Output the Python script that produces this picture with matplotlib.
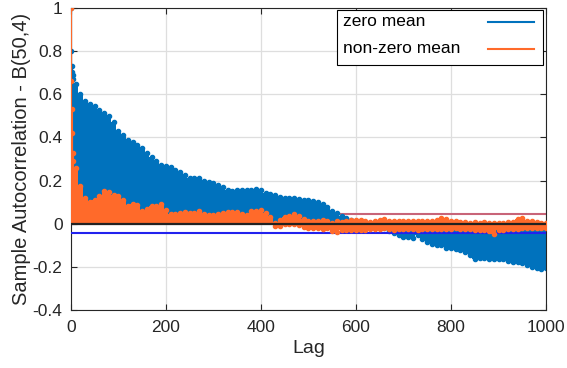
import numpy as np
import matplotlib
matplotlib.use("Agg")
import matplotlib.pyplot as plt

plt.rcParams['font.family'] = ['Liberation Sans', 'DejaVu Sans']

# first lags, drawn as single stems
early_lags = [0, 1, 2, 3, 4, 5]
zero_mean_early = [1.0, 0.80, 0.73, 0.705, 0.69, 0.67]
nonzero_mean_early = [1.0, 0.66, 0.53, 0.42, 0.33, 0.29]

# envelope of the dense stems, read every 10 lags (10..1000)
lags = np.arange(10, 1001, 10)
zero_mean = [
    0.65, 0.60, 0.57, 0.555, 0.545, 0.527, 0.515, 0.50, 0.47, 0.43,
    0.41, 0.39, 0.38, 0.365, 0.35, 0.33, 0.31, 0.29, 0.272, 0.266,
    0.262, 0.25, 0.24, 0.225, 0.21, 0.21, 0.21, 0.20, 0.195, 0.19,
    0.178, 0.17, 0.155, 0.153, 0.155, 0.156, 0.156, 0.157, 0.159, 0.155,
    0.14, 0.137, 0.133, 0.125, 0.117, 0.117, 0.117, 0.114, 0.11, 0.11,
    0.105, 0.10, 0.09, 0.078, 0.06, 0.048, 0.035, 0.025, 0.015, 0.008,
    -0.005, -0.01, -0.015, -0.015, -0.02, -0.02, -0.035, -0.045, -0.055, -0.06,
    -0.06, -0.068, -0.055, -0.07, -0.085, -0.095, -0.097, -0.10, -0.112, -0.115,
    -0.118, -0.122, -0.13, -0.145, -0.165, -0.16, -0.16, -0.165, -0.165, -0.162,
    -0.162, -0.172, -0.177, -0.18, -0.184, -0.19, -0.20, -0.205, -0.212, -0.208,
]
nonzero_mean_hi = [
    0.26, 0.175, 0.12, 0.10, 0.11, 0.13, 0.15, 0.145, 0.135, 0.13,
    0.11, 0.08, 0.09, 0.086, 0.06, 0.068, 0.08, 0.08, 0.09, 0.065,
    0.045, 0.045, 0.05, 0.055, 0.05, 0.048, 0.058, 0.045, 0.04, 0.042,
    0.045, 0.05, 0.055, 0.055, 0.052, 0.045, 0.04, 0.06, 0.058, 0.062,
    0.05, 0.03, 0.005, 0.015, 0.03, 0.036, 0.045, 0.035, 0.022, 0.01,
    0.01, 0.012, 0.015, 0.01, 0.005, 0.012, 0.008, 0.012, 0.017, 0.017,
    0.015, 0.01, 0.009, 0.012, 0.018, 0.02, 0.012, 0.014, 0.012, 0.013,
    0.014, 0.012, 0.01, 0.01, 0.012, 0.014, 0.018, 0.025, 0.022, 0.01,
    0.012, 0.008, 0.008, 0.005, 0.009, 0.005, 0.006, 0.005, 0.004, 0.005,
    0.005, 0.006, 0.006, 0.02, 0.025, 0.01, 0.014, 0.006, 0.005, 0.005,
]
# negative side of the non-zero mean stems (from lag 430 on)
lo_lags = np.arange(430, 1001, 10)
nonzero_mean_lo = [
    -0.01, -0.01, -0.002, 0.0, 0.0, -0.005, -0.015, -0.022, -0.018, -0.02,
    -0.025, -0.022, -0.035, -0.037, -0.03, -0.03, -0.03, -0.03, -0.028, -0.03,
    -0.025, -0.025, -0.025, -0.022, -0.025, -0.028, -0.025, -0.025, -0.027, -0.025,
    -0.028, -0.025, -0.026, -0.025, -0.024, -0.023, -0.025, -0.025, -0.022, -0.024,
    -0.026, -0.025, -0.028, -0.03, -0.03, -0.032, -0.048, -0.03, -0.028, -0.026,
    -0.025, -0.024, -0.022, -0.022, -0.02, -0.022, -0.02, -0.02,
]
bound = 0.0447
labels = ['zero mean', 'non-zero mean']

blue = '#0072bd'
orange = '#ff6a2a'
ink = '#262626'

fig = plt.figure(figsize=(5.67, 3.68), dpi=100)
ax = fig.add_axes([0.125, 0.158, 0.838, 0.820])

ax.axhline(bound, color='#c86478', lw=1.5, zorder=1)


def dense_stems(x0, y0, x, y, color, z):
    # the stems are so dense that they merge into a band
    xs = np.concatenate([[x0], x])
    ys = np.concatenate([[y0], y])
    ax.fill_between(xs, 0, ys, step='mid', color=color, lw=0, zorder=z)
    ax.plot(x, y, 'o', color=color, ms=3, zorder=z)


# zero mean
dense_stems(early_lags[-1], zero_mean_early[-1], lags, zero_mean, blue, 2)
ax.vlines(early_lags, 0, zero_mean_early, color=blue, lw=0.8, zorder=2)
ax.plot(early_lags, zero_mean_early, 'o', color=blue, ms=3, zorder=2)

ax.axhline(-bound, color='#2222ee', lw=1.5, zorder=3)

# non-zero mean
dense_stems(early_lags[-1], nonzero_mean_early[-1], lags, nonzero_mean_hi, orange, 4)
dense_stems(lo_lags[0], 0.0, lo_lags, nonzero_mean_lo, orange, 4)
ax.vlines(early_lags, 0, nonzero_mean_early, color=orange, lw=0.8, zorder=4)
ax.plot(early_lags, nonzero_mean_early, 'o', color=orange, ms=3, zorder=4)

ax.axhline(0, color='#222222', lw=1.6, zorder=5)

# legend, MATLAB style: text on the left, line sample on the right
ax.add_patch(plt.Rectangle((0.560, 0.811), 0.434, 0.182, transform=ax.transAxes,
                           facecolor='white', edgecolor='black', lw=0.8, zorder=6))
for i, (lab, col) in enumerate(zip(labels, [blue, orange])):
    yy = 0.955 - i * 0.09
    ax.text(0.573, yy, lab, transform=ax.transAxes, fontsize=12.5, color='black',
            va='center', ha='left', zorder=7)
    ax.plot([0.878, 0.975], [yy, yy], color=col, lw=1.5, transform=ax.transAxes, zorder=7)

ax.set_xlim(0, 1000)
ax.set_ylim(-0.4, 1)
ax.set_xticks([0, 200, 400, 600, 800, 1000])
ax.set_yticks([-0.4, -0.2, 0, 0.2, 0.4, 0.6, 0.8, 1])
ax.set_yticklabels(['-0.4', '-0.2', '0', '0.2', '0.4', '0.6', '0.8', '1'])
ax.tick_params(direction='in', top=True, right=True, labelsize=12.5, length=4,
               color=ink, labelcolor=ink, width=0.8)
ax.tick_params(axis='x', pad=7)
ax.tick_params(axis='y', pad=6)
for s in ax.spines.values():
    s.set_color(ink)
    s.set_linewidth(0.8)
ax.grid(True, color='#dedede', lw=0.9)
ax.set_axisbelow(True)
ax.set_xlabel('Lag', fontsize=14, color=ink, labelpad=4)
ax.set_ylabel('Sample Autocorrelation - B(50,4)', fontsize=14.5, color=ink, labelpad=1)

fig.savefig('out.png', dpi=100)
